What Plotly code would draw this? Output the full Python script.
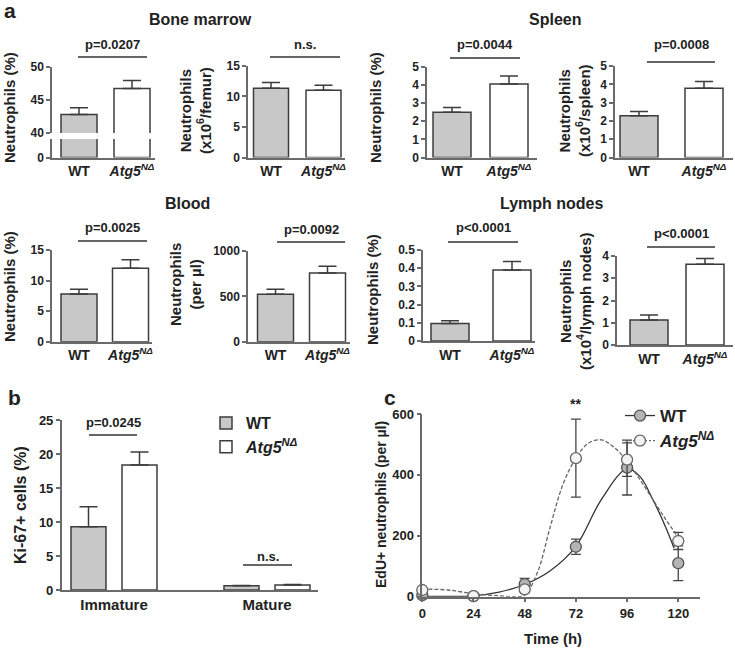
import plotly.graph_objects as go

W, H = 735, 649
FONT = "Liberation Sans, Arial, sans-serif"
GRAY = "#c8c8c8"
EDGE = "#3c3c3c"
AXIS = "#6a6a6a"
TXT = "#222222"

# ---- panel a : mean and upper SEM, WT vs Atg5 ----
genotypes = ["WT", "Atg5"]
geno_ticks = ["WT", "<i>Atg5</i><sup><i>NΔ</i></sup>"]

bm_pct = [42.8, 46.7]
bm_pct_err = [1.0, 1.2]
bm_cnt = [11.3, 11.0]
bm_cnt_err = [0.95, 0.8]
sp_pct = [2.49, 4.05]
sp_pct_err = [0.27, 0.44]
sp_cnt = [2.28, 3.79]
sp_cnt_err = [0.23, 0.36]
bl_pct = [7.8, 12.0]
bl_pct_err = [0.77, 1.4]
bl_cnt = [524, 758]
bl_cnt_err = [55, 74]
ln_pct = [0.096, 0.39]
ln_pct_err = [0.015, 0.047]
ln_cnt = [1.12, 3.63]
ln_cnt_err = [0.23, 0.26]

# ---- panel b : Ki-67+ cells ----
ki_cats = ["Immature", "Mature"]
ki_wt = [9.3, 0.63]
ki_wt_err = [2.95, 0.05]
ki_ko = [18.4, 0.73]
ki_ko_err = [1.9, 0.08]

# ---- panel c : EdU+ neutrophils ----
time_h = [0, 24, 48, 72, 96, 120]
edu_wt = [5, 2, 41, 164, 424, 110]
edu_wt_err = [4, 3, 19, 25, 90, 57]
edu_ko = [22, 2, 24, 455, 450, 183]
edu_ko_err = [5, 3, 8, 128, 55, 28]
# fitted curves as drawn in the figure
fit_t_wt = [0, 12, 24, 36, 48, 60, 72, 84, 96, 102, 108, 114, 118]
fit_wt = [2, 1, 3, 15, 40, 85, 165, 320, 420, 395, 320, 230, 160]
fit_t_ko = [0, 12, 24, 36, 44, 48, 54, 60, 66, 72, 78, 84, 90, 96, 102, 108, 114, 119]
fit_ko = [25, 22, 10, 3, 0, 5, 80, 230, 370, 455, 505, 515, 490, 445, 385, 320, 255, 205]


def px_x(p):
    return p / W


def px_y(p):
    return 1 - p / H


fig = go.Figure()
axes = {}
annots = []
shapes = []


def sfx(n):
    return "" if n == 1 else str(n)


def bar_panel(n, vals, errs, geo, ydom, yrange, ticks, show_x=True, show_err=True):
    left, right, c1, c2, bw = geo
    unit = c2 - c1
    xr = [(left - c1) / unit, 1 + (right - c2) / unit]
    fig.add_trace(go.Bar(
        x=genotypes, y=vals, width=bw / unit,
        marker=dict(color=[GRAY, "white"], line=dict(color=EDGE, width=1.5)),
        error_y=dict(type="data", symmetric=False, array=errs, arrayminus=[0, 0],
                     color=EDGE, thickness=1.5, width=9, visible=show_err),
        xaxis="x" + sfx(n), yaxis="y" + sfx(n), showlegend=False))
    axes["xaxis" + sfx(n)] = dict(
        domain=[px_x(left), px_x(right)], range=xr, type="category", automargin=False,
        tickvals=genotypes, ticktext=geno_ticks, showline=True, linecolor=AXIS,
        linewidth=1.5, ticks="", showgrid=False, zeroline=False,
        tickfont=dict(size=14, color=TXT), anchor="y" + sfx(n), visible=show_x)
    axes["yaxis" + sfx(n)] = dict(
        domain=[px_y(ydom[1]), px_y(ydom[0])], range=yrange, tickvals=ticks, automargin=False,
        showline=True, linecolor=AXIS, linewidth=1.5, ticks="outside", ticklen=4,
        tickcolor=AXIS, tickwidth=1.5, showgrid=False, zeroline=False,
        tickfont=dict(size=12, color=TXT), anchor="x" + sfx(n))


def sig(x0, x1, y, label, ty):
    shapes.append(dict(type="line", xref="paper", yref="paper", x0=px_x(x0), x1=px_x(x1),
                       y0=px_y(y), y1=px_y(y), line=dict(color="#666", width=2)))
    text(label, (x0 + x1) / 2, ty, 13)


def text(label, x, y, size, angle=0):
    annots.append(dict(text=label, x=px_x(x), y=px_y(y), xref="paper", yref="paper",
                       xanchor="center", yanchor="middle",
                       showarrow=False, textangle=angle, font=dict(size=size, color=TXT)))


# Bone marrow % (broken axis: upper and lower segment)
bar_panel(1, bm_pct, bm_pct_err, (52, 155, 79, 132, 36), (66.7, 133), [40, 50], [40, 45, 50], show_x=False)
bar_panel(2, bm_pct, bm_pct_err, (52, 155, 79, 132, 36), (139, 157.5), [0, 2.77], [0], show_err=False)
bar_panel(3, bm_cnt, bm_cnt_err, (248, 345, 271, 323.5, 35), (65.7, 157.5), [0, 15], [0, 5, 10, 15])
bar_panel(4, sp_pct, sp_pct_err, (427, 537, 452, 509, 38), (66.7, 157.5), [0, 5], [0, 1, 2, 3, 4, 5])
bar_panel(5, sp_cnt, sp_cnt_err, (615, 733, 639, 704, 38), (66, 157.5), [0, 5], [0, 1, 2, 3, 4, 5])
bar_panel(6, bl_pct, bl_pct_err, (52, 152, 79, 130.5, 36), (250, 341.7), [0, 15], [0, 5, 10, 15])
bar_panel(7, bl_cnt, bl_cnt_err, (248, 350, 275.5, 327.5, 36), (251, 341.7), [0, 1000], [0, 500, 1000])
bar_panel(8, ln_pct, ln_pct_err, (423, 535, 450, 512, 38), (250, 341), [0, 0.5], [0, 0.1, 0.2, 0.3, 0.4, 0.5])
bar_panel(9, ln_cnt, ln_cnt_err, (617, 733, 649, 705, 38), (256, 345), [0, 4], [0, 1, 2, 3, 4])

sig(78, 147, 57, "p=0.0207", 45)
sig(270, 340, 57, "n.s.", 45)
sig(450, 520, 58, "p=0.0044", 45)
sig(647, 715, 62, "p=0.0008", 45)
sig(78, 147, 241, "p=0.0025", 227)
sig(277, 345, 242, "p=0.0092", 229)
sig(448, 518, 242, "p<0.0001", 227)
sig(647, 715, 247, "p<0.0001", 233)

text("Bone marrow", 200, 19, 16)
text("Spleen", 555, 19, 16)
text("Blood", 187, 203, 16)
text("Lymph nodes", 552, 203, 16)

text("Neutrophils (%)", 9, 108, 15, -90)
text("Neutrophils<br>(x10<sup>6</sup>/femur)", 195, 111, 15, -90)
text("Neutrophils (%)", 375, 108, 15, -90)
text("Neutrophils<br>(x10<sup>6</sup>/spleen)", 574, 111, 15, -90)
text("Neutrophils (%)", 9, 287, 15, -90)
text("Neutrophils<br>(per µl)", 185, 285, 15, -90)
text("Neutrophils (%)", 372, 290, 15, -90)
text("Neutrophils<br>(x10<sup>4</sup>/lymph nodes)", 575, 301, 15, -90)

# ---- panel b ----
unit_b = 153.0
fig.add_trace(go.Bar(x=ki_cats, y=ki_wt, name="WT", offset=-43 / unit_b, width=35 / unit_b,
                     marker=dict(color=GRAY, line=dict(color=EDGE, width=1.5)),
                     error_y=dict(type="data", symmetric=False, array=ki_wt_err, arrayminus=[0, 0],
                                  color=EDGE, thickness=1.5, width=9),
                     xaxis="x10", yaxis="y10", legend="legend"))
fig.add_trace(go.Bar(x=ki_cats, y=ki_ko, name="<i>Atg5</i><sup><i>NΔ</i></sup>", offset=8 / unit_b,
                     width=35 / unit_b,
                     marker=dict(color="white", line=dict(color=EDGE, width=1.5)),
                     error_y=dict(type="data", symmetric=False, array=ki_ko_err, arrayminus=[0, 0],
                                  color=EDGE, thickness=1.5, width=9),
                     xaxis="x10", yaxis="y10", legend="legend"))
axes["xaxis10"] = dict(domain=[px_x(61.7), px_x(318)], range=[-(114 - 61.7) / unit_b, 1 + (318 - 267) / unit_b],
                       type="category", showline=True, linecolor=AXIS, linewidth=1.5, ticks="",
                       automargin=False, showgrid=False, tickfont=dict(size=15, color=TXT), anchor="y10")
axes["yaxis10"] = dict(domain=[px_y(590), px_y(420)], range=[0, 25], dtick=5, showline=True,
                       linecolor=AXIS, linewidth=1.5, ticks="outside", ticklen=4, tickcolor=AXIS,
                       tickwidth=1.5, showgrid=False, zeroline=False, automargin=False,
                       tickfont=dict(size=13, color=TXT), anchor="x10")
sig(89, 137, 435, "p=0.0245", 422)
sig(243, 292, 565, "n.s.", 556)
text("Ki-67+ cells (%)", 20, 505, 16, -90)

# ---- panel c ----
fig.add_trace(go.Scatter(x=fit_t_wt, y=fit_wt, mode="lines", line=dict(color="#333", width=1.3, shape="spline"),
                         xaxis="x11", yaxis="y11", showlegend=False, hoverinfo="skip"))
fig.add_trace(go.Scatter(x=fit_t_ko, y=fit_ko, mode="lines",
                         line=dict(color="#666", width=1.3, dash="4px,2px", shape="spline"),
                         xaxis="x11", yaxis="y11", showlegend=False, hoverinfo="skip"))
wt_marker = dict(size=11, color="#b4b4b4", line=dict(color="#555", width=1.3))
ko_marker = dict(size=11, color="#f4f4f4", line=dict(color="#666", width=1.3))
fig.add_trace(go.Scatter(x=time_h, y=edu_wt, mode="markers", marker=wt_marker, cliponaxis=False,
                         error_y=dict(type="data", array=edu_wt_err, color="#444", thickness=1.3, width=5),
                         xaxis="x11", yaxis="y11", showlegend=False))
fig.add_trace(go.Scatter(x=time_h, y=edu_ko, mode="markers", marker=ko_marker, cliponaxis=False,
                         error_y=dict(type="data", array=edu_ko_err, color="#444", thickness=1.3, width=5),
                         xaxis="x11", yaxis="y11", showlegend=False))
fig.add_trace(go.Scatter(x=[None], y=[None], mode="lines+markers", name="WT", marker=wt_marker,
                         line=dict(color="#333", width=1.3), xaxis="x11", yaxis="y11", legend="legend2"))
fig.add_trace(go.Scatter(x=[None], y=[None], mode="lines+markers", name="<i>Atg5</i><sup><i>NΔ</i></sup>",
                         marker=ko_marker, line=dict(color="#666", width=1.3, dash="2px,2px"),
                         xaxis="x11", yaxis="y11", legend="legend2"))
axes["xaxis11"] = dict(domain=[px_x(422.3), px_x(699.6)], range=[0, 130], tickvals=time_h,
                       showline=True, linecolor=AXIS, linewidth=1.5, ticks="outside", ticklen=4,
                       tickcolor=AXIS, tickwidth=1.5, showgrid=False, zeroline=False, automargin=False,
                       tickfont=dict(size=13, color=TXT), anchor="y11")
axes["yaxis11"] = dict(domain=[px_y(596.7), px_y(414)], range=[0, 600], tickvals=[0, 200, 400, 600],
                       showline=True, linecolor=AXIS, linewidth=1.5, ticks="outside", ticklen=4,
                       tickcolor=AXIS, tickwidth=1.5, showgrid=False, zeroline=False, automargin=False,
                       tickfont=dict(size=13, color=TXT), anchor="x11")
annots.append(dict(text="**", x=72, y=600, xref="x11", yref="y11", xanchor="center", yanchor="bottom",
                   showarrow=False, font=dict(size=14, color=TXT)))
text("EdU+ neutrophils (per µl)", 381, 505, 14, -90)
text("Time (h)", 553, 638, 15)

text("a", 10, 11, 21)
text("b", 14, 397, 21)
text("c", 390, 397, 21)

fig.update_layout(
    template="none",
    width=W, height=H, margin=dict(l=0, r=0, t=0, b=0, autoexpand=False),
    paper_bgcolor="white", plot_bgcolor="white",
    font=dict(family=FONT, color=TXT, weight="bold"),
    barmode="overlay",
    legend=dict(x=px_x(206), y=px_y(406), xanchor="left", yanchor="top", bgcolor="rgba(0,0,0,0)",
                font=dict(size=16, color=TXT), tracegroupgap=0, itemwidth=30),
    legend2=dict(x=px_x(620), y=px_y(398), xanchor="left", yanchor="top", bgcolor="rgba(0,0,0,0)",
                 font=dict(size=17, color=TXT), tracegroupgap=0, itemwidth=30),
    annotations=annots, shapes=shapes,
    **axes,
)

# the page body has a default 8px margin; drop it so the chart sits at the window corner
fig.write_html("out.html", config={"displayModeBar": False},
               post_script="document.body.style.margin='0px';")
